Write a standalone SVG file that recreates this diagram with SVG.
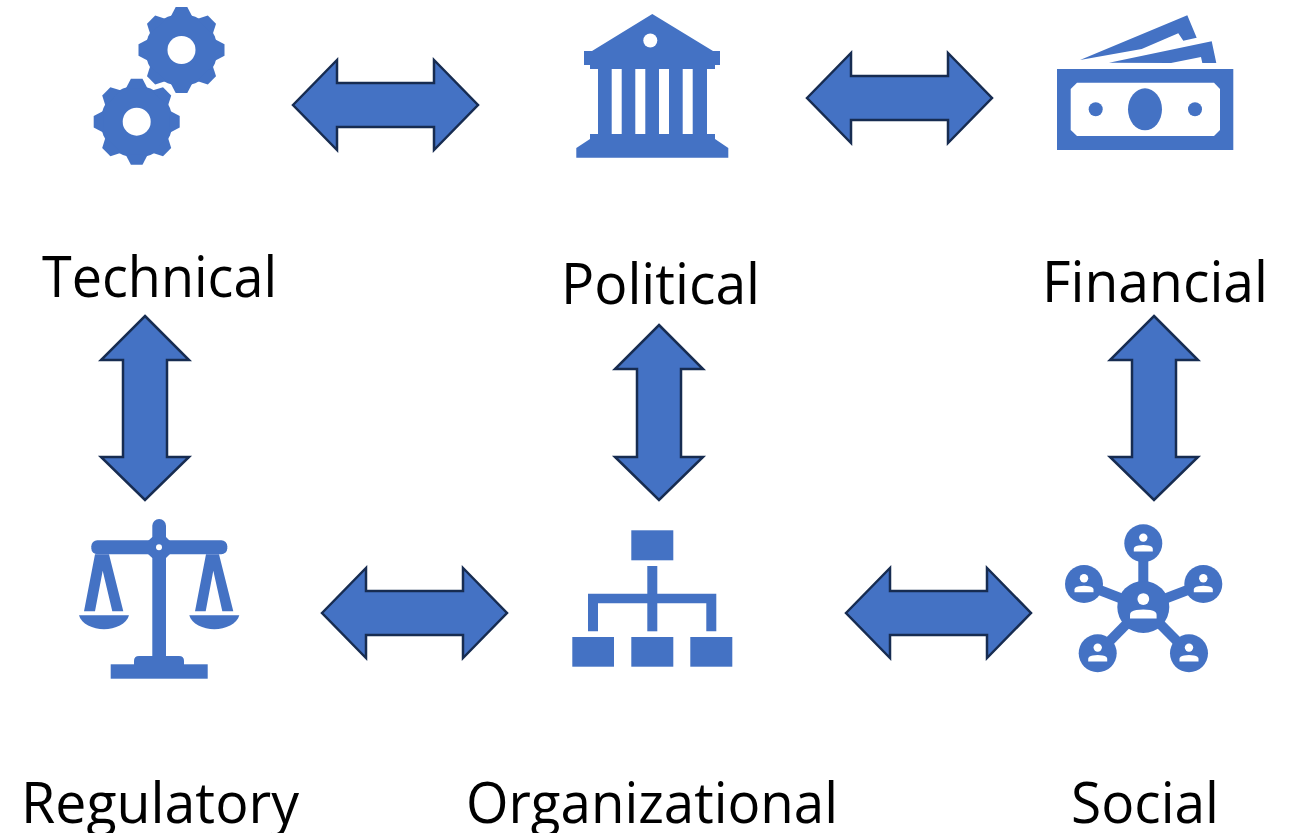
<svg xmlns="http://www.w3.org/2000/svg" width="1289" height="833" viewBox="0 0 1289 833">
<style>
.i{fill:#4472c4}
.w{fill:#fff}
.a{fill:#4472c4;stroke:#172c51;stroke-width:2.5;stroke-linejoin:miter}
.t{font-family:"Open Sans","Noto Sans","Liberation Sans",sans-serif;font-size:56px;fill:#000}
</style>
<defs>
<g id="tooth"><polygon points="-5.8,-43 5.8,-43 11,-33 -11,-33"/></g>
<g id="gear">
<circle r="36"/>
<use href="#tooth"/><use href="#tooth" transform="rotate(45)"/><use href="#tooth" transform="rotate(90)"/><use href="#tooth" transform="rotate(135)"/><use href="#tooth" transform="rotate(180)"/><use href="#tooth" transform="rotate(225)"/><use href="#tooth" transform="rotate(270)"/><use href="#tooth" transform="rotate(315)"/>
</g>
<g id="person"><circle cy="-5.7" r="4.2" class="w"/><path class="w" d="M-9.5,8.3V5.5Q-9.5,3.2-5,2.2Q0,1.2 5,2.2Q9.5,3.2 9.5,5.5V8.3Z"/></g>
<polygon id="h" points="-92.5,0 -48.5,-45 -48.5,-22 48.5,-22 48.5,-45 92.5,0 48.5,45 48.5,22 -48.5,22 -48.5,45"/>
</defs>

<g id="connectors">
<use href="#h" class="a" transform="translate(385.5,105)"/>
<use href="#h" class="a" transform="translate(899.5,98)"/>
<use href="#h" class="a" transform="translate(414.5,613)"/>
<use href="#h" class="a" transform="translate(938.5,613)"/>
<polygon class="a" points="145,316 189,360 167,360 167,457 189,457 145,500 101,457 123,457 123,360 101,360"/>
<polygon class="a" points="659,325 703,369 681,369 681,457 703,457 659,500 615,457 637,457 637,369 615,369"/>
<polygon class="a" points="1154,316 1198,360 1176,360 1176,457 1198,457 1154,500 1110,457 1132,457 1132,360 1110,360"/>
</g>

<g id="technical">
<use href="#gear" class="i" transform="translate(181.5,50)"/>
<circle class="w" cx="181.5" cy="50" r="14"/>
<g transform="translate(136.7,121.7)"><use href="#gear" fill="#fff" stroke="#fff" stroke-width="5"/><use href="#gear" class="i"/></g>
<circle class="w" cx="136.7" cy="121.7" r="14"/>
<text class="t" x="42" y="297" textLength="235" lengthAdjust="spacingAndGlyphs">Technical</text>
</g>

<g id="political">
<path class="i" d="M652.3,14L713,51H720V65H715V69H707V134H715V139L728.3,148V157.7H576.3V148L590,139V134H598V69H590V65H584V51H592Z"/>
<rect class="w" x="611.7" y="69" width="10" height="65"/>
<rect class="w" x="635.3" y="69" width="10" height="65"/>
<rect class="w" x="659" y="69" width="10" height="65"/>
<rect class="w" x="682.7" y="69" width="10" height="65"/>
<circle class="w" cx="650.3" cy="40.5" r="7"/>
<text class="t" x="561" y="304" textLength="199" lengthAdjust="spacingAndGlyphs">Political</text>
</g>

<g id="financial">
<polygon class="i" points="1080,60 1187.3,15.3 1196.7,37.7 1183.3,40.7 1178.3,33.3 1141.7,49"/>
<polygon class="i" points="1109,62.7 1211.7,41.3 1216.3,63 1202.3,63 1201,57 1171,63"/>
<rect class="i" x="1057" y="69" width="176.3" height="81"/>
<polygon class="w" points="1077,82.7 1214,82.7 1220,89 1220,130 1214,136 1077,136 1070.7,130 1070.7,89"/>
<ellipse class="i" cx="1145" cy="109.3" rx="17" ry="21"/>
<circle class="i" cx="1095.7" cy="109.3" r="7"/>
<circle class="i" cx="1195" cy="109.3" r="7"/>
<text class="t" x="1042" y="302" textLength="226" lengthAdjust="spacingAndGlyphs">Financial</text>
</g>

<g id="regulatory">
<rect class="i" x="91.3" y="540.3" width="136" height="14" rx="6"/>
<rect class="i" x="152.3" y="519" width="13.7" height="150" rx="6.8"/>
<polygon class="i" points="148,541 152.3,537 166,537 170,541 170,554 166,558 152.3,558 148,554"/>
<circle class="w" cx="159" cy="547.3" r="3"/>
<polygon class="i" points="95,554.3 109,554.3 123.3,611.3 112.3,611.3 102.7,570.7 95,611.3 84,611.3"/>
<polygon class="i" points="206,554.3 219,554.3 233.3,611.3 222.3,611.3 213.3,570.7 205.7,611.3 195,611.3"/>
<path class="i" d="M79,615.3H129C127,624 115,629.3 104,629.3C93,629.3 81,624 79,615.3Z"/>
<path class="i" d="M189.3,615.3H239.3C237.3,624 225.3,629.3 214.3,629.3C203.3,629.3 191.3,624 189.3,615.3Z"/>
<rect class="i" x="110.7" y="664.3" width="97" height="14.4"/>
<path class="i" d="M134,665V661Q134,656 139,656H179Q184,656 184,661V665Z"/>
<text class="t" x="21" y="823" textLength="278" lengthAdjust="spacingAndGlyphs">Regulatory</text>
</g>

<g id="organizational">
<rect class="i" x="631.3" y="530.3" width="42" height="30"/>
<rect class="i" x="572.3" y="637" width="41.7" height="29.7"/>
<rect class="i" x="631.3" y="637" width="42" height="29.7"/>
<rect class="i" x="690.3" y="637" width="42" height="29.7"/>
<rect class="i" x="647.3" y="566" width="10" height="65.3"/>
<path class="i" d="M588,631.3V593.7H716.3V631.3H706.3V603.3H598V631.3Z"/>
<text class="t" x="466" y="823" textLength="372" lengthAdjust="spacingAndGlyphs">Organizational</text>
</g>

<g id="social">
<g stroke="#4472c4" stroke-width="10">
<line x1="1143.3" y1="607" x2="1143.3" y2="543.3"/>
<line x1="1143.3" y1="607" x2="1084" y2="584"/>
<line x1="1143.3" y1="607" x2="1203.3" y2="584"/>
<line x1="1143.3" y1="607" x2="1097.7" y2="653.3"/>
<line x1="1143.3" y1="607" x2="1189" y2="653.3"/>
</g>
<circle class="i" cx="1143.3" cy="607" r="26"/>
<circle class="i" cx="1143.3" cy="543.3" r="19"/>
<circle class="i" cx="1084" cy="584" r="19"/>
<circle class="i" cx="1203.3" cy="584" r="19"/>
<circle class="i" cx="1097.7" cy="653.3" r="19"/>
<circle class="i" cx="1189" cy="653.3" r="19"/>
<use href="#person" transform="translate(1143.3,607) scale(1.4)"/>
<use href="#person" transform="translate(1143.3,543.3)"/>
<use href="#person" transform="translate(1084,584)"/>
<use href="#person" transform="translate(1203.3,584)"/>
<use href="#person" transform="translate(1097.7,653.3)"/>
<use href="#person" transform="translate(1189,653.3)"/>
<text class="t" x="1071" y="823" textLength="148" lengthAdjust="spacingAndGlyphs">Social</text>
</g>
</svg>
